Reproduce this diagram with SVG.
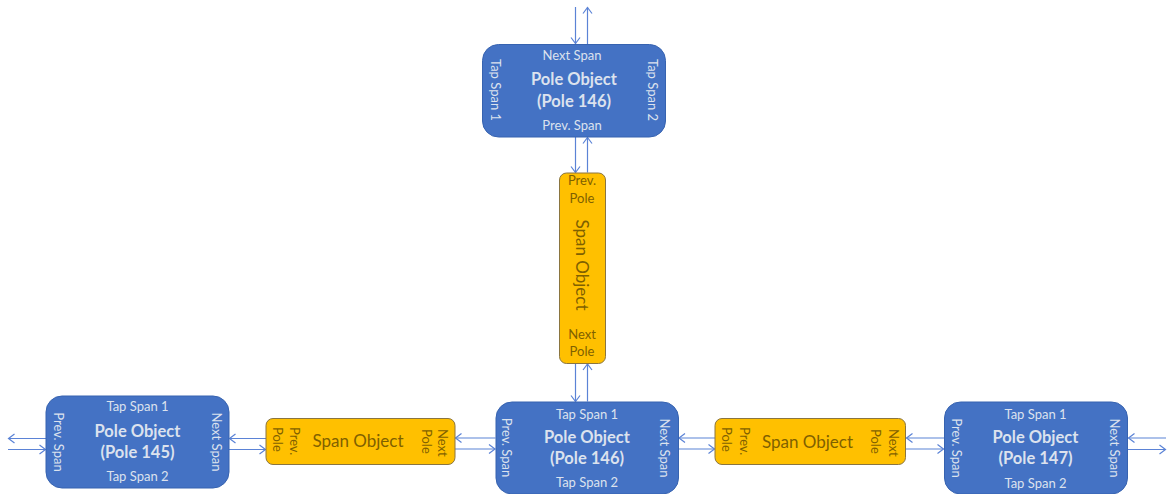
<svg xmlns="http://www.w3.org/2000/svg" width="1168" height="494" viewBox="0 0 1168 494">
  <defs>
    <marker id="chev" markerUnits="userSpaceOnUse" markerWidth="10" markerHeight="12" refX="7" refY="5" orient="auto" overflow="visible">
      <path d="M1,0.5 L7,5 L1,9.5" fill="none" stroke="#5B83D6" stroke-width="1.2"/>
    </marker>
    <style>
      .pole { fill: #4472C4; stroke: #3763B0; stroke-width: 1; }
      .span { fill: #FFC000; stroke: #8A7540; stroke-width: 1; }
      .link { stroke: #5B83D6; stroke-width: 1.2; fill: none; marker-end: url(#chev); }
      text { font-family: Lato, "Liberation Sans", sans-serif; }
      .pt { fill: #DCE2EE; font-size: 13px; text-anchor: middle; }
      .ptb { fill: #DCE2EE; font-size: 16.5px; font-weight: bold; text-anchor: middle; }
      .st { fill: #7F6000; font-size: 13px; }
      .stc { fill: #7F6000; font-size: 13px; text-anchor: middle; }
      .sbig { fill: #7F6000; font-size: 17px; text-anchor: middle; }
    </style>
  </defs>

  <!-- connectors -->
  <g id="connectors">
    <!-- above top pole -->
    <line class="link" x1="575.5" y1="7" x2="575.5" y2="43.5"/>
    <line class="link" x1="587.5" y1="44" x2="587.5" y2="7.5"/>
    <!-- top pole to vertical span -->
    <line class="link" x1="575.5" y1="137" x2="575.5" y2="172.5"/>
    <line class="link" x1="587.5" y1="172.5" x2="587.5" y2="137.5"/>
    <!-- vertical span to pole 146 -->
    <line class="link" x1="575.5" y1="363.5" x2="575.5" y2="401.5"/>
    <line class="link" x1="587.5" y1="401.5" x2="587.5" y2="364"/>
    <!-- left of pole 145 -->
    <line class="link" x1="46" y1="438.5" x2="8.5" y2="438.5"/>
    <line class="link" x1="8" y1="449.5" x2="45.5" y2="449.5"/>
    <!-- pole 145 / span -->
    <line class="link" x1="266" y1="438.5" x2="229.5" y2="438.5"/>
    <line class="link" x1="229" y1="449.5" x2="265.5" y2="449.5"/>
    <!-- span / pole 146 -->
    <line class="link" x1="495.5" y1="438" x2="455.5" y2="438"/>
    <line class="link" x1="455" y1="449" x2="495" y2="449"/>
    <!-- pole 146 / span -->
    <line class="link" x1="715" y1="438" x2="679" y2="438"/>
    <line class="link" x1="678.5" y1="449" x2="714.5" y2="449"/>
    <!-- span / pole 147 -->
    <line class="link" x1="944" y1="438" x2="906.5" y2="438"/>
    <line class="link" x1="906" y1="449" x2="943.5" y2="449"/>
    <!-- right of pole 147 -->
    <line class="link" x1="1166" y1="438" x2="1128.5" y2="438"/>
    <line class="link" x1="1128" y1="449.5" x2="1165.5" y2="449.5"/>
  </g>

  <!-- top pole 146 -->
  <g id="pole146-top">
    <rect class="pole" x="482.5" y="44.5" width="183" height="92.5" rx="16"/>
    <text class="pt" x="572" y="60">Next Span</text>
    <text class="ptb" x="574" y="85">Pole Object</text>
    <text class="ptb" x="574" y="106.5">(Pole 146)</text>
    <text class="pt" x="572" y="129.5">Prev. Span</text>
    <text class="pt" transform="translate(491,90) rotate(90)">Tap Span 1</text>
    <text class="pt" transform="translate(647.5,90) rotate(90)">Tap Span 2</text>
  </g>

  <!-- vertical span -->
  <g id="span-vertical">
    <rect class="span" x="559.5" y="173" width="46" height="190.5" rx="7"/>
    <text class="stc" x="582" y="185">Prev.</text>
    <text class="stc" x="582" y="202.5">Pole</text>
    <text class="sbig" transform="translate(576,265) rotate(90)">Span Object</text>
    <text class="stc" x="582" y="338.5">Next</text>
    <text class="stc" x="582" y="355.5">Pole</text>
  </g>

  <!-- pole 145 -->
  <g id="pole145">
    <rect class="pole" x="46" y="396" width="183" height="92" rx="16"/>
    <text class="pt" x="137.5" y="410.5">Tap Span 1</text>
    <text class="ptb" x="137.5" y="436.5">Pole Object</text>
    <text class="ptb" x="137.5" y="457.5">(Pole 145)</text>
    <text class="pt" x="137.5" y="480.5">Tap Span 2</text>
    <text class="pt" transform="translate(53.5,442) rotate(90)">Prev. Span</text>
    <text class="pt" transform="translate(211.5,442) rotate(90)">Next Span</text>
  </g>

  <!-- span between 145 and 146 -->
  <g id="span-left">
    <rect class="span" x="266" y="418.5" width="189" height="46" rx="7"/>
    <text class="st" transform="translate(289.5,427) rotate(90)">Prev.</text>
    <text class="st" transform="translate(273,427) rotate(90)">Pole</text>
    <text class="sbig" x="358" y="447">Span Object</text>
    <text class="st" transform="translate(438,429) rotate(90)">Next</text>
    <text class="st" transform="translate(422,429) rotate(90)">Pole</text>
  </g>

  <!-- pole 146 -->
  <g id="pole146">
    <rect class="pole" x="496" y="402" width="182.5" height="92" rx="16"/>
    <text class="pt" x="587" y="418.5">Tap Span 1</text>
    <text class="ptb" x="587" y="442.5">Pole Object</text>
    <text class="ptb" x="587" y="463.5">(Pole 146)</text>
    <text class="pt" x="587" y="487">Tap Span 2</text>
    <text class="pt" transform="translate(502,447.5) rotate(90)">Prev. Span</text>
    <text class="pt" transform="translate(660,448) rotate(90)">Next Span</text>
  </g>

  <!-- span between 146 and 147 -->
  <g id="span-right">
    <rect class="span" x="715" y="418.5" width="190.5" height="46" rx="7"/>
    <text class="st" transform="translate(739.5,427) rotate(90)">Prev.</text>
    <text class="st" transform="translate(722,427) rotate(90)">Pole</text>
    <text class="sbig" x="807.5" y="448">Span Object</text>
    <text class="st" transform="translate(888.5,429) rotate(90)">Next</text>
    <text class="st" transform="translate(870.5,429) rotate(90)">Pole</text>
  </g>

  <!-- pole 147 -->
  <g id="pole147">
    <rect class="pole" x="944.5" y="402" width="183" height="92" rx="16"/>
    <text class="pt" x="1035.5" y="418.5">Tap Span 1</text>
    <text class="ptb" x="1035.5" y="443">Pole Object</text>
    <text class="ptb" x="1035.5" y="464">(Pole 147)</text>
    <text class="pt" x="1035.5" y="487.5">Tap Span 2</text>
    <text class="pt" transform="translate(952,448) rotate(90)">Prev. Span</text>
    <text class="pt" transform="translate(1109.5,448) rotate(90)">Next Span</text>
  </g>
</svg>
